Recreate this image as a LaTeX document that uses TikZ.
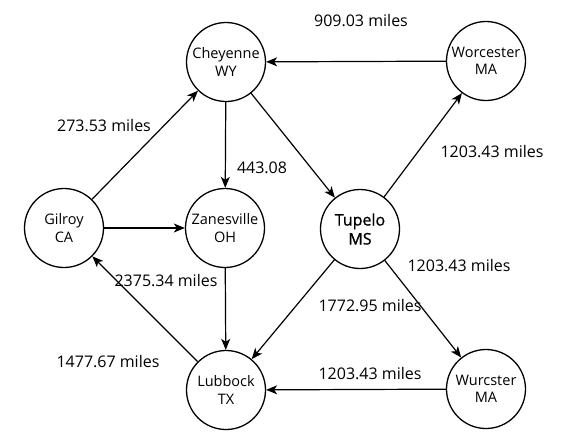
\documentclass[tikz,border=0pt]{standalone}
\usepackage{fontspec}
\setmainfont{Open Sans}
\newfontfamily\tupfont{Open Sans}[FakeBold=1.0]
\usetikzlibrary{arrows.meta}
\begin{document}
\begin{tikzpicture}[x=1pt,y=-1pt,
  city/.style={circle,draw,line width=1.3pt,minimum size=79pt,inner sep=0pt,align=center,font=\fontsize{14.5}{17.5}\selectfont},
  bigcity/.style={city,font=\tupfont\fontsize{16}{19}\selectfont},
  road/.style={line width=1.2pt,-{Stealth[length=11pt,width=9pt,inset=3pt]}},
  dist/.style={font=\fontsize{16}{19}\selectfont,inner sep=0pt}]
\fill[white] (0,0) rectangle (567,440);
\useasboundingbox (0,0) rectangle (567,440);
\node[city] (chey) at (226,62) {Cheyenne\\WY};
\node[city] (worc) at (486,61) {Worcester\\MA};
\node[city] (gil) at (64,228) {Gilroy\\CA};
\node[city] (zan) at (225,228) {Zanesville\\OH};
\node[bigcity] (tup) at (360,229) {Tupelo\\MS};
\node[city] (lub) at (226,390) {Lubbock\\TX};
\node[city] (wur) at (486,389) {Wurcster\\MA};
\draw[road] (worc) -- (chey);
\draw[road] (gil) -- (chey);
\draw[road] (chey) -- (zan);
\draw[road] (chey) -- (tup);
\draw[road] (tup) -- (worc);
\draw[road] (gil) -- (zan);
\draw[road] (zan) -- (lub);
\draw[road] (lub) -- (gil);
\draw[road] (tup) -- (lub);
\draw[road] (tup) -- (wur);
\draw[road] (wur) -- (lub);
\node[dist] (l1) at (361,21) {909.03 miles};
\node[dist] (l2) at (104,126) {273.53 miles};
\node[dist] (l3) at (262,168) {443.08};
\node[dist] (l4) at (492,152) {1203.43 miles};
\node[dist] (l5) at (166,281) {2375.34 miles};
\node[dist] (l6) at (108,362) {1477.67 miles};
\node[dist] (l7) at (459,266) {1203.43 miles};
\node[dist] (l8) at (370,306) {1772.95 miles};
\node[dist] (l9) at (370,374) {1203.43 miles};
\end{tikzpicture}
\end{document}
